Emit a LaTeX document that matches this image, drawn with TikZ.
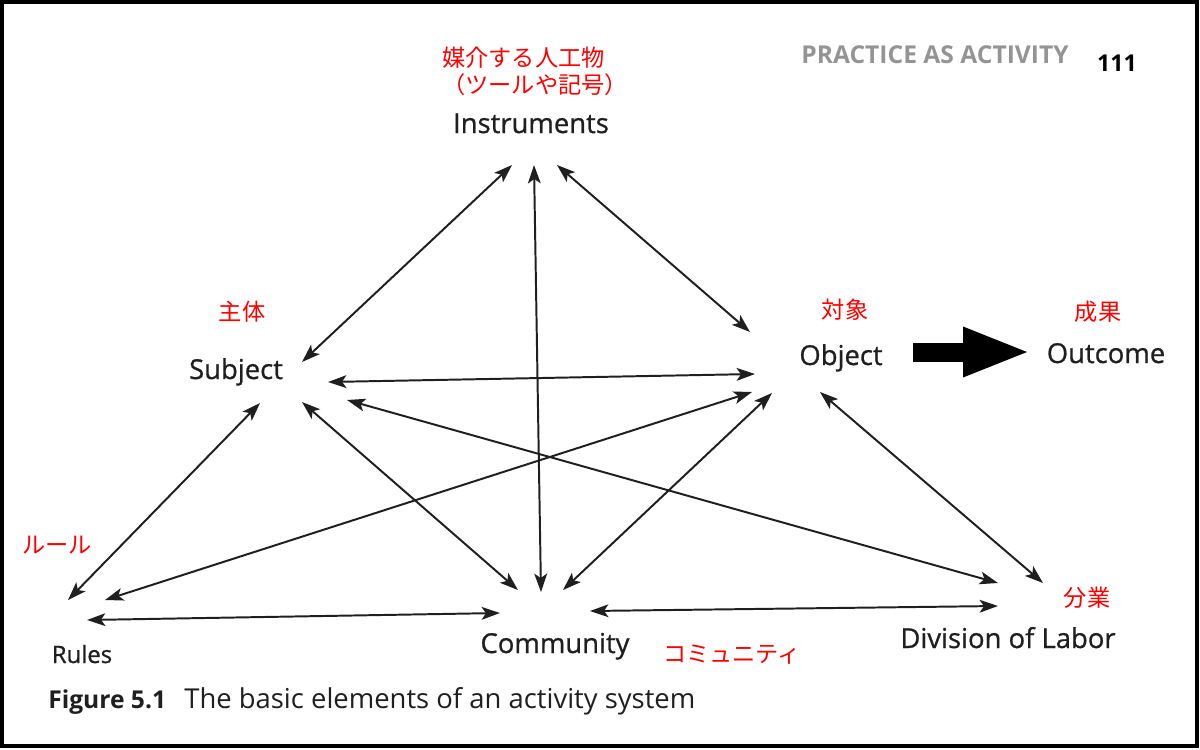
\documentclass[tikz,border=0pt]{standalone}
\usepackage{fontspec}
\setmainfont{Open Sans}
\newfontfamily\labfont[FakeBold=0.8]{Open Sans}
\newfontfamily\jpfont{Noto Sans CJK JP}
\usetikzlibrary{arrows.meta}
\begin{document}
\begin{tikzpicture}[x=0.025cm,y=-0.025cm,
    >={Stealth[length=4.6mm,width=3.2mm,inset=1.1mm]},
    lab/.style={anchor=base,inner sep=0pt,text=black!88,font=\labfont\fontsize{19.5pt}{23pt}\selectfont},
    jp/.style={inner sep=0pt,text=red,font=\jpfont\fontsize{16.5pt}{19.2pt}\selectfont},
    link/.style={<->,line width=1.4pt,draw=black!88}]
    \useasboundingbox (0,0) rectangle (1200,749);
    \draw[line width=0.1cm] (2,2) rectangle (1197,746); %枠
    % 柱
    \node[anchor=base,inner sep=0pt,text=black!42,font=\bfseries\fontsize{17.5pt}{20pt}\selectfont] (head) at (935,63) {PRACTICE AS ACTIVITY};
    \node[anchor=base,inner sep=0pt,font=\bfseries\fontsize{16.5pt}{18pt}\selectfont] (page) at (1117,72) {111};
    % 要素
    \node[lab] (inst) at (531,133) {Instruments};
    \node[lab] (subj) at (236,379) {Subject};
    \node[lab] (obj) at (841,365) {Object};
    \node[lab] (outc) at (1106,363) {Outcome};
    \node[lab,font=\labfont\fontsize{17pt}{20pt}\selectfont] (rules) at (82,663) {Rules};
    \node[lab] (comm) at (555,653) {Community};
    \node[lab] (div) at (1008,648) {Division of Labor};
    % 日本語の注
    \node[jp,align=left,anchor=west] (instjp) at (442,71.5) {媒介する人工物\\（ツールや記号）};
    \node[jp] (subjjp) at (242,312) {主体};
    \node[jp] (objjp) at (845,310) {対象};
    \node[jp] (outcjp) at (1098,312) {成果};
    \node[jp] (rulesjp) at (57,545) {ルール};
    \node[jp] (commjp) at (732,655) {コミュニティ};
    \node[jp] (divjp) at (1087,598) {分業};
    % 矢印
    \draw[link] ([shift={(-19,32)}]inst.base) -- ([shift={(66,-17)}]subj.base);
    \draw[link] ([shift={(3,32)}]inst.base) -- ([shift={(-14,-61)}]comm.base);
    \draw[link] ([shift={(26,32)}]inst.base) -- ([shift={(-91,-33)}]obj.base);
    \draw[link] ([shift={(92,3)}]subj.base) -- ([shift={(-86,9)}]obj.base);
    \draw[link] ([shift={(24,24)}]subj.base) -- ([shift={(-14,-63)}]rules.base);
    \draw[link] ([shift={(66,23)}]subj.base) -- ([shift={(-37,-63)}]comm.base);
    \draw[link] ([shift={(111,21)}]subj.base) -- ([shift={(-10,-65)}]div.base);
    \draw[link] ([shift={(-89,27)}]obj.base) -- ([shift={(23,-63)}]rules.base);
    \draw[link] ([shift={(-69,28)}]obj.base) -- ([shift={(8,-63)}]comm.base);
    \draw[link] ([shift={(-21,27)}]obj.base) -- ([shift={(35,-65)}]div.base);
    \draw[link] ([shift={(5,-43)}]rules.base) -- ([shift={(-55,-40)}]comm.base);
    \draw[link] ([shift={(35,-42)}]comm.base) -- ([shift={(-10,-42)}]div.base);
    \draw[line width=0.475cm,-{Triangle[length=1.6cm,width=1.275cm,line width=0pt]}] ([shift={(72,-13)}]obj.base) -- ([shift={(-79,-11)}]outc.base); %太矢印
    % 図の説明
    \node[anchor=base west,inner sep=0pt,text=black!88,font=\fontsize{19.5pt}{23pt}\selectfont] (cap) at (48,708) {{\fontsize{17.5pt}{23pt}\selectfont\bfseries Figure 5.1}\hspace{13pt}The basic elements of an activity system};
\end{tikzpicture}
\end{document}
